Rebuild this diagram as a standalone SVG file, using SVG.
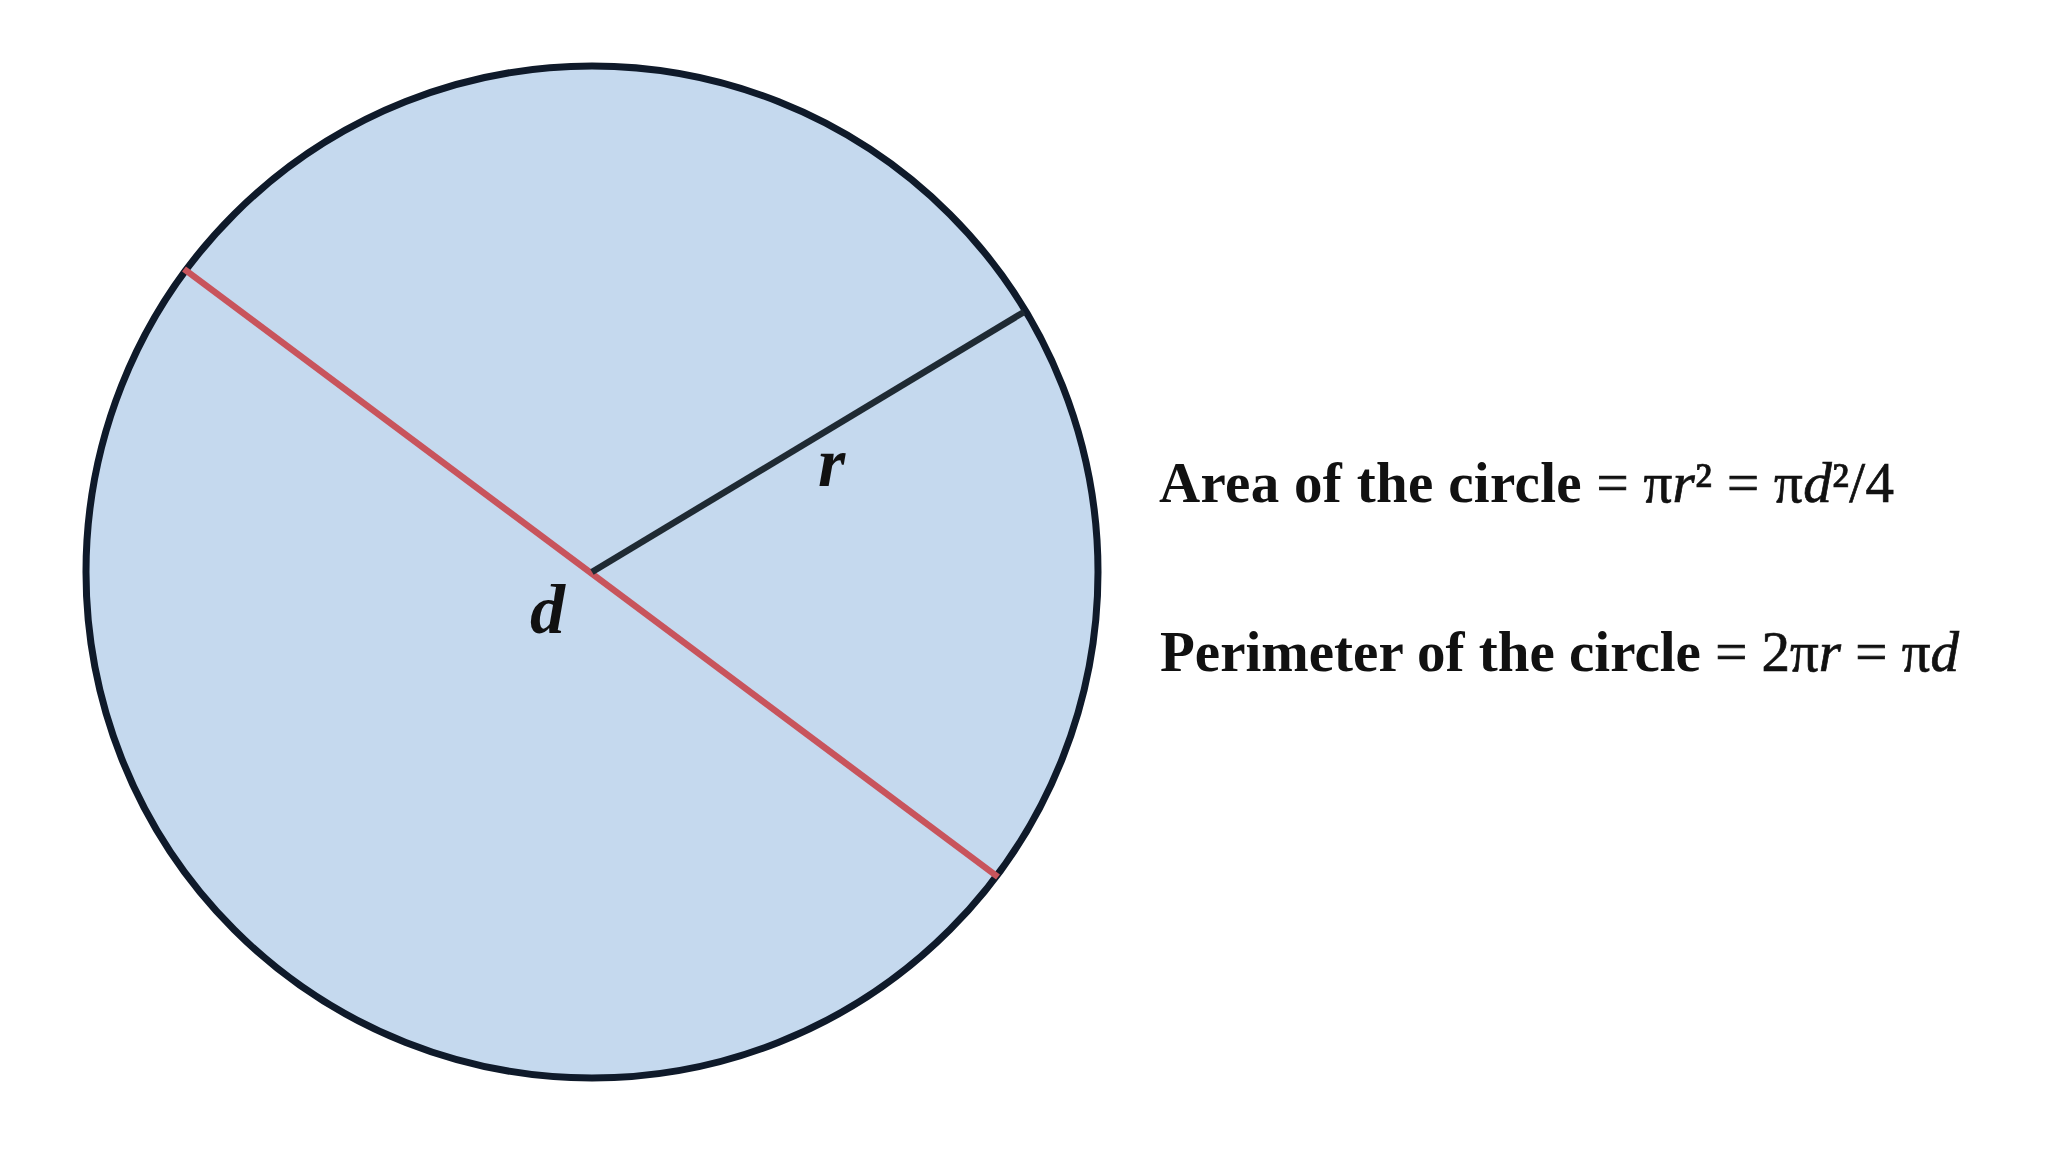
<svg xmlns="http://www.w3.org/2000/svg" width="2048" height="1152" viewBox="0 0 2048 1152">
<style>
.t{font-family:"Liberation Serif","DejaVu Serif",serif;fill:#111;}
.w{font-weight:bold;}
.e{stroke:#111;stroke-width:0.7;}
.i{font-style:italic;}
.lbl{font-family:"Liberation Serif","DejaVu Serif",serif;font-weight:bold;font-style:italic;fill:#111;font-size:70px;}
</style>
<rect width="2048" height="1152" fill="#ffffff"/>
<g id="circle">
<circle cx="592" cy="572" r="506" fill="#c5d9ee" stroke="#0f1a2a" stroke-width="7"/>
</g>
<g id="connectors">
<line id="diameter" x1="184" y1="269" x2="998" y2="877" stroke="#c8545c" stroke-width="6.5"/>
<line id="radius" x1="592" y1="572" x2="1024" y2="312" stroke="#1f2a33" stroke-width="6.5"/>
</g>
<g id="labels">
<text class="lbl" x="818" y="486">r</text>
<text class="lbl" x="530" y="633">d</text>
</g>
<g id="formulas">
<text class="t" x="1159" y="502" font-size="57" textLength="735" lengthAdjust="spacing"><tspan class="w">Area of the circle</tspan><tspan class="e"> = π<tspan class="i">r</tspan>² = π<tspan class="i">d</tspan>²/4</tspan></text>
<text class="t" x="1160" y="671" font-size="57" textLength="799" lengthAdjust="spacing"><tspan class="w">Perimeter of the circle</tspan><tspan class="e"> = 2π<tspan class="i">r</tspan> = π<tspan class="i">d</tspan></tspan></text>
</g>
</svg>
